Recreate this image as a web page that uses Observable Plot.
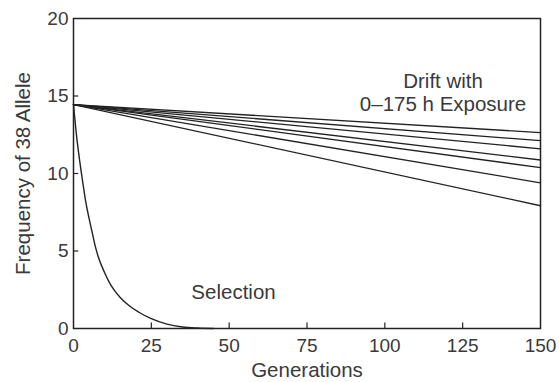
<!DOCTYPE html>
<html>
<head>
<meta charset="utf-8">
<script src="https://cdn.jsdelivr.net/npm/d3@7"></script>
<script src="https://cdn.jsdelivr.net/npm/@observablehq/plot@0.6"></script>
<style>
  html, body { margin: 0; padding: 0; background: #fff; }
  #chart svg { display: block; font-family: "Liberation Sans", Arial, sans-serif; }
</style>
</head>
<body>
<div id="chart"></div>
<script>
// ---- data ----
const xTicks = [0, 25, 50, 75, 100, 125, 150];
const yTicks = [0, 5, 10, 15, 20];

// Drift lines: common start at generation 0, ends at generation 150
const driftStartGen = 0;
const driftEndGen = 150;
const driftStart = 14.45;
const driftEnd = [12.64, 12.12, 11.59, 10.87, 10.38, 9.40, 7.92];

// Selection curve
const selGen = [0, 1, 2, 3, 4, 5, 6, 7, 8, 10, 12, 15, 18, 21, 25, 30, 35, 40, 45];
const selVal = [14.45, 12.4, 10.8, 9.4, 8.1, 7.1, 6.2, 5.3, 4.6, 3.6, 2.8, 2.0, 1.45, 1.05, 0.63, 0.28, 0.1, 0.03, 0];

// Annotations
const labelText = ["Drift with\n0\u2013175 h Exposure", "Selection"];
const labelGen = [118.7, 51.4];
const labelVal = [15.25, 2.4];

// ---- build tables ----
const drift = driftEnd.flatMap((e, i) => [
  {series: i, gen: driftStartGen, val: driftStart},
  {series: i, gen: driftEndGen, val: e}
]);
const selection = selGen.map((g, i) => ({gen: g, val: selVal[i]}));
const labels = labelText.map((t, i) => ({text: t, gen: labelGen[i], val: labelVal[i]}));

const ink = "#222";
const textInk = "#3a3a3a";

const chart = Plot.plot({
  width: 559,
  height: 382,
  marginLeft: 73,
  marginRight: 19,
  marginTop: 18,
  marginBottom: 54,
  style: {fontFamily: "'Liberation Sans', Arial, sans-serif", background: "#fff"},
  x: {domain: [0, 150]},
  y: {domain: [0, 20]},
  marks: [
    Plot.axisX({ticks: xTicks, tickSize: 0, tickPadding: 10, fontSize: 19, fill: textInk, label: null}),
    Plot.axisY({ticks: yTicks, tickSize: 0, tickPadding: 5, fontSize: 19, fill: textInk, label: null}),
    // inward tick marks
    Plot.ruleX(xTicks.slice(1, -1), {x: d => d, y1: 0, y2: 0.35, stroke: ink, strokeWidth: 1.2}),
    Plot.ruleY(yTicks.slice(1, -1), {y: d => d, x1: 0, x2: 1.7, stroke: ink, strokeWidth: 1.2}),
    Plot.frame({stroke: ink, strokeWidth: 1.5}),
    Plot.line(drift, {x: "gen", y: "val", z: "series", stroke: ink, strokeWidth: 1.3}),
    Plot.line(selection, {x: "gen", y: "val", stroke: ink, strokeWidth: 1.4, curve: "monotone-x"}),
    Plot.text(labels, {x: "gen", y: "val", text: "text", fontSize: 20.5, fill: textInk, lineHeight: 1.1, textAnchor: "middle"}),
    Plot.text(["Frequency of 38 Allele"], {frameAnchor: "left", rotate: -90, dx: -50, fontSize: 20.5, fill: textInk, textAnchor: "middle"}),
    Plot.text(["Generations"], {frameAnchor: "bottom", dy: 48, fontSize: 20.5, fill: textInk, textAnchor: "middle"})
  ]
});
document.getElementById("chart").append(chart);
</script>
</body>
</html>
